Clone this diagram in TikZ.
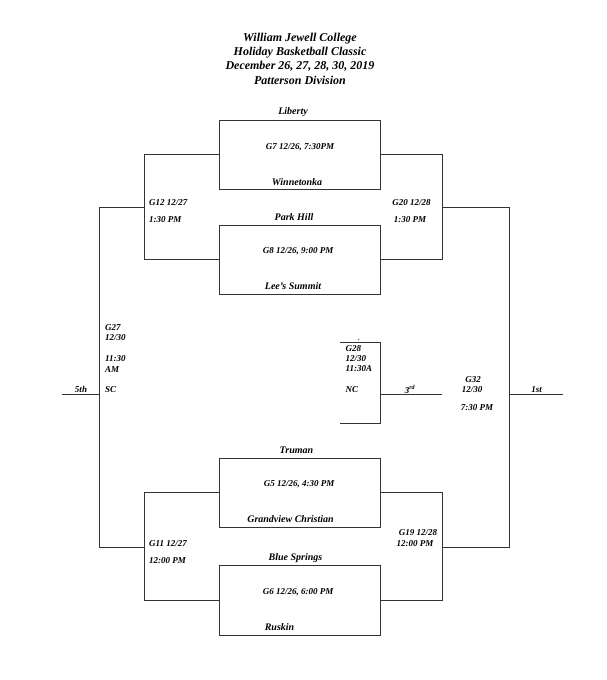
\documentclass[tikz,border=0pt]{standalone}
\usepackage{fontspec}
\setmainfont{Liberation Serif}
\begin{document}
\begin{tikzpicture}[x=1pt,y=-1pt,
  ln/.style={line width=0.9pt,draw=black!80},
  lbl/.style={font=\bfseries\itshape\fontsize{9}{10}\selectfont,inner sep=0pt},
  team/.style={font=\bfseries\itshape\fontsize{10}{12}\selectfont,inner sep=0pt},
  lft/.style={lbl,anchor=west},
  ttl/.style={font=\bfseries\itshape\fontsize{12}{14}\selectfont,inner sep=0pt}]
\useasboundingbox (0,0) rectangle (606,680);
% title
\node[ttl] (t1) at (300,38.5) {William Jewell College};
\node[ttl] (t2) at (300,52.5) {Holiday Basketball Classic};
\node[ttl] (t3) at (300,66) {December 26, 27, 28, 30, 2019};
\node[ttl] (t4) at (300,80) {Patterson Division};
% boxes
\draw[ln] (219.5,120) rectangle (380.5,189.5);
\draw[ln] (219.5,225) rectangle (380.5,294);
\draw[ln] (219.5,458) rectangle (380.5,527.5);
\draw[ln] (219.5,565.5) rectangle (380.5,635.5);
% top left bracket
\coordinate (a1) at (219.5,154.5);
\coordinate (a2) at (144,154.5);
\coordinate (a3) at (144,259.5);
\coordinate (a4) at (219.5,259.5);
\draw[ln] (a1) -- (a2) -- (a3) -- (a4);
\coordinate (b1) at (380.5,154.5);
\coordinate (b2) at (442,154.5);
\coordinate (b3) at (442,259.5);
\coordinate (b4) at (380.5,259.5);
\draw[ln] (b1) -- (b2) -- (b3) -- (b4);
% bottom brackets
\coordinate (c1) at (219.5,492.5);
\coordinate (c2) at (144,492.5);
\coordinate (c3) at (144,600.5);
\coordinate (c4) at (219.5,600.5);
\draw[ln] (c1) -- (c2) -- (c3) -- (c4);
\coordinate (d1) at (380.5,492.5);
\coordinate (d2) at (442,492.5);
\coordinate (d3) at (442,600.5);
\coordinate (d4) at (380.5,600.5);
\draw[ln] (d1) -- (d2) -- (d3) -- (d4);
% outer left
\coordinate (e1) at (144,207.5);
\coordinate (e2) at (99.5,207.5);
\coordinate (e3) at (99.5,547.5);
\coordinate (e4) at (144,547.5);
\draw[ln] (e1) -- (e2) -- (e3) -- (e4);
\coordinate (f1) at (442,207.5);
\coordinate (f2) at (509.5,207.5);
\coordinate (f3) at (509.5,547.5);
\coordinate (f4) at (442,547.5);
\draw[ln] (f1) -- (f2) -- (f3) -- (f4);
% 5th / 1st lines
\coordinate (g1) at (62,394);
\coordinate (g2) at (99.5,394);
\draw[ln] (g1) -- (g2);
\coordinate (h1) at (509.5,394);
\coordinate (h2) at (562.5,394);
\draw[ln] (h1) -- (h2);
% G28 bracket
\coordinate (k1) at (340,342);
\coordinate (k2) at (380.5,342);
\coordinate (k3) at (380.5,423.5);
\coordinate (k4) at (340,423.5);
\draw[ln] (k1) -- (k2) -- (k3) -- (k4);
\coordinate (m1) at (380.5,394);
\coordinate (m2) at (442,394);
\draw[ln] (m1) -- (m2);
% top texts
\node[team] (liberty) at (293,112) {Liberty};
\node[lbl] (g7) at (300,147) {G7 12/26, 7:30PM};
\node[team] (winne) at (297,182) {Winnetonka};
\node[lft] (g12a) at (149,202.5) {G12 12/27};
\node[lft] (g12b) at (149,219.5) {1:30 PM};
\node[team] (park) at (294,217) {Park Hill};
\node[lbl] (g8) at (298,251) {G8 12/26, 9:00 PM};
\node[team] (lees) at (293,286) {Lee's Summit};
\node[lbl] (g20a) at (411.5,202.5) {G20 12/28};
\node[lbl] (g20b) at (410,219.5) {1:30 PM};
% bottom texts
\node[team] (truman) at (296.5,450) {Truman};
\node[lbl] (g5) at (299,484) {G5 12/26, 4:30 PM};
\node[team] (grand) at (290.5,519.5) {Grandview Christian};
\node[lft] (g11a) at (149,543.5) {G11 12/27};
\node[lft] (g11b) at (149,561) {12:00 PM};
\node[team] (blue) at (295.5,558) {Blue Springs};
\node[lbl] (g6) at (298,592.5) {G6 12/26, 6:00 PM};
\node[team] (ruskin) at (279.5,627) {Ruskin};
\node[lbl] (g19a) at (418,533) {G19 12/28};
\node[lbl] (g19b) at (415,543.5) {12:00 PM};
% middle texts
\node[lft] (g27a) at (105,328) {G27};
\node[lft] (g27b) at (105,338) {12/30};
\node[lft] (g27c) at (105,359) {11:30};
\node[lft] (g27d) at (105,369.5) {AM};
\node[lft] (sc) at (105,389.5) {SC};
\node[lbl] (fifth) at (81,389.5) {5th};
\node[lft] (g28a) at (345.5,348.5) {G28};
\node[lft] (g28b) at (345.5,358.5) {12/30};
\node[lft] (g28c) at (345.5,368.5) {11:30A};
\node[lft] (nc) at (345.5,389.5) {NC};
\node[lbl] (third) at (410,389.5) {3\textsuperscript{rd}};
\node[lbl] (g32a) at (473,379.5) {G32};
\node[lbl] (g32b) at (472,389.5) {12/30};
\node[lbl] (g32c) at (477,407.5) {7:30 PM};
\node[lbl] (first) at (536.5,389.5) {1st};
\fill[black!80] (358.7,339.3) circle (0.6);
\end{tikzpicture}
\end{document}
